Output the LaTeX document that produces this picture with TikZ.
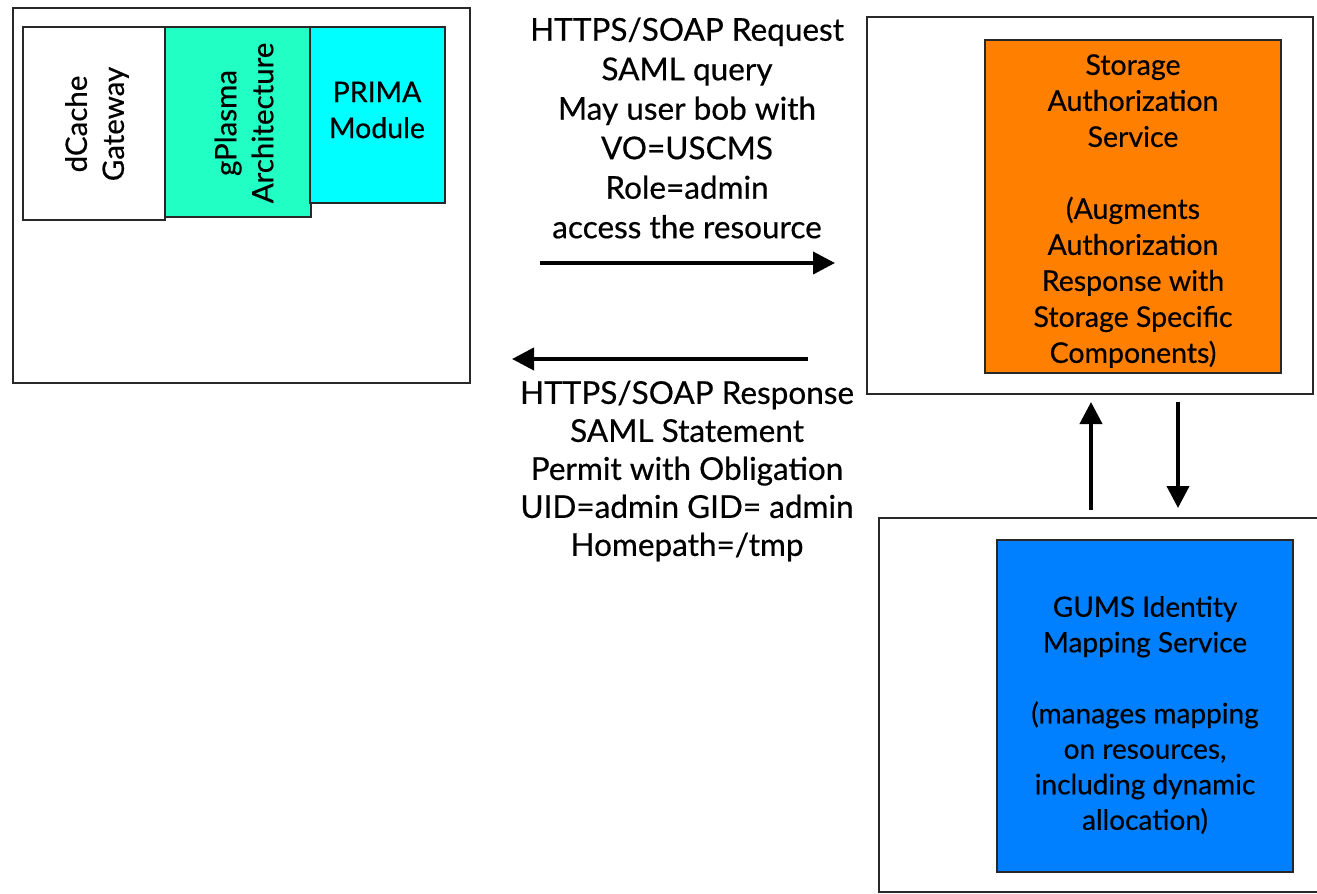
\documentclass[tikz,border=0pt]{standalone}
\usepackage{fontspec}
\setmainfont{Lato}[FakeBold=0.5]
\usetikzlibrary{arrows.meta}
\definecolor{aqua}{RGB}{34,255,196}
\definecolor{cyanb}{RGB}{0,255,255}
\definecolor{orangeb}{RGB}{255,128,0}
\definecolor{blueb}{RGB}{0,128,255}
\definecolor{edge}{RGB}{40,40,40}
\tikzset{
  box/.style={draw=edge, line width=2pt, anchor=north west, inner sep=0pt, outer sep=0pt},
  txt/.style={align=center, inner sep=0pt, font=\fontsize{28.5}{36}\selectfont},
  bigtxt/.style={align=center, inner sep=0pt, font=\fontsize{31.5}{39.5}\selectfont},
  arr/.style={line width=4pt, -{Triangle[length=22pt, width=22pt]}},
}
\begin{document}
\begin{tikzpicture}[x=1pt, y=-1pt]
\useasboundingbox (0,0) rectangle (1317,894);
% left system
\node[box, minimum width=457pt, minimum height=375pt] (gw) at (13,8) {};
\node[box, minimum width=142pt, minimum height=193pt] (dc) at (23,27) {};
\node[box, fill=aqua, minimum width=146pt, minimum height=190pt] (gp) at (165,27) {};
\node[box, fill=cyanb, minimum width=135pt, minimum height=176pt] (pr) at (310,27) {};
\node[txt, font=\fontsize{29.5}{37}\selectfont, rotate=90] (dct) at (97,124) {dCache\\Gateway};
\node[txt, font=\fontsize{29.5}{37}\selectfont, rotate=90] (gpt) at (244,123) {gPlasma\\Architecture};
\node[txt] (prt) at (377,110) {PRIMA\\Module};
% storage authorization service
\node[box, minimum width=446pt, minimum height=377pt] (sas) at (867,17) {};
\node[box, fill=orangeb, minimum width=296pt, minimum height=333pt] (sasin) at (985,40) {};
\node[txt] (sast) at (1133,211) {Storage\\Authorization\\Service\\[36pt](Augments\\Authorization\\Response with\\Storage Specific\\Components)};
% GUMS
\node[box, minimum width=450pt, minimum height=374pt] (gums) at (879,518) {};
\node[box, fill=blueb, minimum width=296pt, minimum height=332pt] (gumsin) at (997,540) {};
\node[txt, font=\fontsize{28}{35.5}\selectfont] (gumst) at (1145,715) {GUMS Identity\\Mapping Service\\[35.5pt](manages mapping\\on resources,\\including dynamic\\allocation)};
% messages
\node[bigtxt] (req) at (687,128) {HTTPS/SOAP Request\\SAML query\\May user bob with\\VO=USCMS\\Role=admin\\access the resource};
\node[bigtxt, font=\fontsize{31.5}{38}\selectfont] (resp) at (687,471) {HTTPS/SOAP Response\\SAML Statement\\Permit with Obligation\\UID=admin GID= admin\\Homepath=/tmp};
\coordinate (reqS) at (540,263);
\coordinate (reqE) at (835,263);
\coordinate (respS) at (808,359);
\coordinate (respE) at (512,359);
\draw[arr] (reqS) -- (reqE);
\draw[arr] (respS) -- (respE);
\coordinate (upx) at (1091,0);
\coordinate (dnx) at (1178,0);
\draw[arr, shorten <=8pt, shorten >=8pt] (gums.north -| upx) -- (sas.south -| upx);
\draw[arr, shorten <=8pt, shorten >=10pt] (sas.south -| dnx) -- (gums.north -| dnx);
\end{tikzpicture}
\end{document}
